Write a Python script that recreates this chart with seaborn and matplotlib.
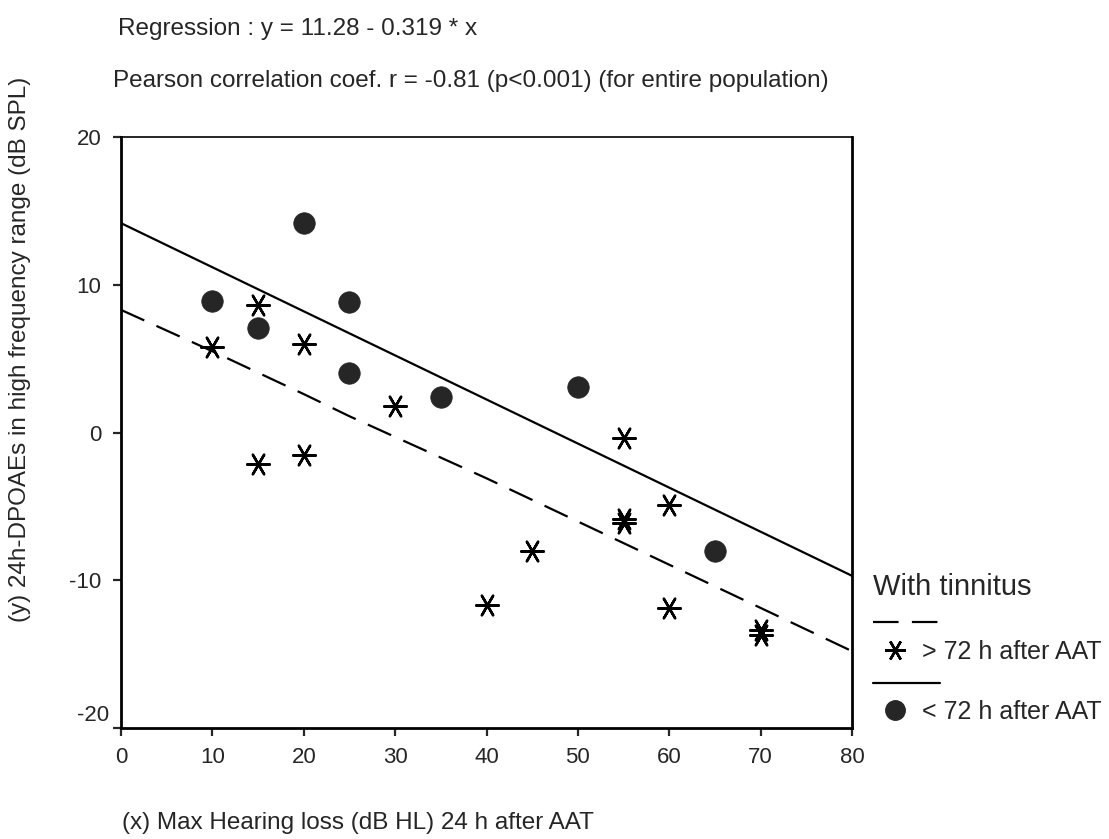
import matplotlib
matplotlib.use('Agg')
import matplotlib.pyplot as plt
import seaborn as sns
import pandas as pd
from matplotlib.lines import Line2D

# > 72 h after AAT (stars)
late_x = [10, 15, 15, 20, 20, 30, 40, 45, 55, 55, 55, 60, 60, 70, 70]
late_y = [5.8, 8.6, -2.1, 6.0, -1.5, 1.8, -11.7, -8.0, -0.4, -5.85, -6.1, -4.9, -11.9, -13.4, -13.7]

# < 72 h after AAT (filled circles)
early_x = [10, 15, 20, 25, 25, 35, 50, 65]
early_y = [8.9, 7.1, 14.2, 8.8, 4.0, 2.4, 3.1, -8.0]

# regression lines
solid_x = [0, 80]
solid_y = [14.17, -9.7]
dashed_x = [0, 10, 20, 25, 30, 40, 80]
dashed_y = [8.3, 5.5, 2.6, 1.1, -0.3, -3.1, -14.8]

xticks = [0, 10, 20, 30, 40, 50, 60, 70, 80]
yticks = [-20, -10, 0, 10, 20]

sns.set_style('ticks')
plt.rcParams['font.family'] = ['Liberation Sans', 'DejaVu Sans']

late = pd.DataFrame({'x': late_x, 'y': late_y})
early = pd.DataFrame({'x': early_x, 'y': early_y})
solid = pd.DataFrame({'x': solid_x, 'y': solid_y})
dashed = pd.DataFrame({'x': dashed_x, 'y': dashed_y})

fig = plt.figure(figsize=(11.09, 8.39), dpi=100)
ax = fig.add_axes([0.1091, 0.1323, 0.6592, 0.7044])

star = (6, 2, 90)
dash = [11.5, 6]
sns.lineplot(data=solid, x='x', y='y', ax=ax, color='black', lw=1.6)
sns.lineplot(data=dashed, x='x', y='y', ax=ax, color='black', lw=1.6)
ax.lines[-1].set_dashes(dash)
sns.scatterplot(data=late, x='x', y='y', ax=ax, marker=star, s=260, color='black',
                linewidth=1.8, zorder=3)
sns.scatterplot(data=early, x='x', y='y', ax=ax, marker='o', s=240, color='#262626',
                edgecolor='#262626', linewidth=0.5, zorder=3)

fs = 17.5
tfs = 16
ax.set_xlim(0, 80)
ax.set_ylim(-20, 20)
ax.set_xticks(xticks)
ax.set_yticks(yticks)
ax.set_yticklabels(['' if v == -20 else str(v) for v in yticks])
ax.annotate('-20', xy=(0, -20), xycoords=('axes fraction', 'data'), xytext=(-8.5, 9),
            textcoords='offset points', ha='right', va='center', fontsize=tfs)
ax.set_xlabel('')
ax.set_ylabel('')
ax.tick_params(axis='both', direction='out', length=6, width=1.6, labelsize=tfs, pad=8)

for side in ['left', 'bottom', 'right']:
    ax.spines[side].set_linewidth(2.0)
ax.spines['top'].set_linewidth(1.2)
for s in ax.spines.values():
    s.set_color('black')

fig.text(0.106, 0.966, 'Regression : y = 11.28 - 0.319 * x', fontsize=fs, va='center')
fig.text(0.102, 0.904, 'Pearson correlation coef. r = -0.81 (p<0.001) (for entire population)',
         fontsize=fs, va='center')
fig.text(0.110, 0.019, '(x) Max Hearing loss (dB HL) 24 h after AAT', fontsize=fs, va='center')
fig.text(0.018, 0.583, '(y) 24h-DPOAEs in high frequency range (dB SPL)', fontsize=fs,
         rotation=90, ha='center', va='center')

# legend drawn by hand
fig.text(0.787, 0.300, 'With tinnitus', fontsize=21, va='center')
fig.add_artist(Line2D([0.787, 0.848], [0.259, 0.259], color='black', lw=1.6, dashes=dash))
fig.add_artist(Line2D([0.807], [0.225], marker=star, markersize=15, color='black', mew=1.8))
fig.text(0.831, 0.223, '> 72 h after AAT', fontsize=18, va='center')
fig.add_artist(Line2D([0.787, 0.848], [0.186, 0.186], color='black', lw=1.6))
fig.add_artist(Line2D([0.807], [0.154], marker='o', markersize=14, color='#262626'))
fig.text(0.831, 0.151, '< 72 h after AAT', fontsize=18, va='center')

fig.savefig('out.png', dpi=100)
